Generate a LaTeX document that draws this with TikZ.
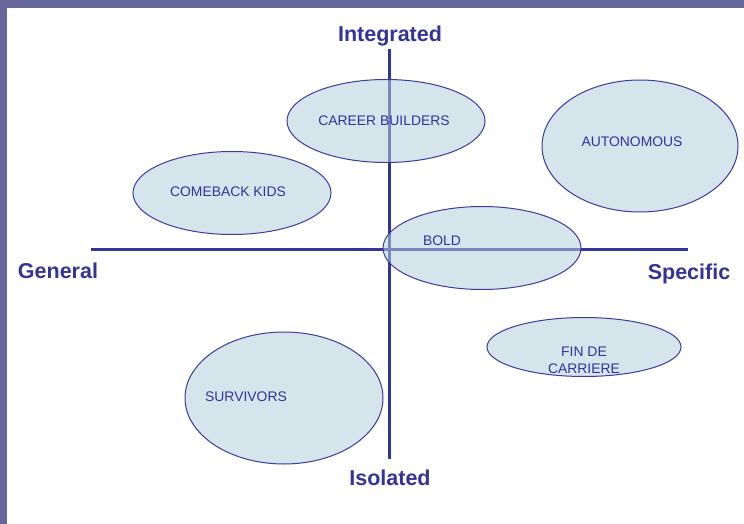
\documentclass[tikz,border=0pt]{standalone}
\usepackage{fontspec}
\setmainfont{Liberation Sans}
\usetikzlibrary{shapes.geometric}
\definecolor{frame}{HTML}{666699}
\definecolor{navy}{HTML}{333399}
\definecolor{ellfill}{HTML}{B6CEDC}
\definecolor{ellline}{HTML}{3C3C9C}
\tikzset{
  axis/.style={draw=navy, line width=3bp},
  ell/.style={ellipse, draw=ellline, line width=1bp, fill=ellfill, fill opacity=0.55, draw opacity=1, inner sep=0pt, outer sep=0pt},
  lbl/.style={anchor=base, text=navy, font=\fontsize{13.9bp}{18bp}\selectfont, inner sep=0pt},
  axlbl/.style={anchor=base, text=navy, font=\fontsize{21.5bp}{24bp}\selectfont\bfseries, inner sep=0pt}
}
\begin{document}
\begin{tikzpicture}[x=1bp,y=-1bp]
\useasboundingbox (0,0) rectangle (744,524);
\fill[white] (0,0) rectangle (744,524);
\fill[frame] (0,0) rectangle (744,8);
\fill[frame] (0,0) rectangle (7,524);
% axes
\coordinate (vtop) at (389,49);
\coordinate (vbot) at (389,459);
\coordinate (hleft) at (91,250);
\coordinate (hright) at (688,250);
\draw[axis] (vtop) -- (vbot);
\draw[axis] (hleft) -- (hright);
% axis labels
\node[axlbl] (integrated) at (390,42) {Integrated};
\node[axlbl] (isolated) at (390,485) {Isolated};
\node[axlbl] (general) at (58,279) {General};
\node[axlbl] (specific) at (689,280) {Specific};
% ellipses
\node[ell, minimum width=198bp, minimum height=83bp] (cb) at (386,121) {};
\node[ell, minimum width=196bp, minimum height=132bp] (auto) at (640,146) {};
\node[ell, minimum width=198bp, minimum height=83bp] (ck) at (232,193) {};
\node[ell, minimum width=198bp, minimum height=83bp] (bold) at (482,248) {};
\node[ell, minimum width=194bp, minimum height=59bp] (fin) at (584,347) {};
\node[ell, minimum width=198bp, minimum height=132bp] (surv) at (284,398) {};
% labels
\node[lbl] (cbt) at (384,126) {CAREER BUILDERS};
\node[lbl] (autot) at (632,147) {AUTONOMOUS};
\node[lbl] (ckt) at (228,197) {COMEBACK KIDS};
\node[lbl] (boldt) at (442,246) {BOLD};
\node[lbl] (fint) at (584,356) {FIN DE};
\node[lbl] (fint2) at (584,373) {CARRIERE};
\node[lbl] (survt) at (246,401) {SURVIVORS};
\end{tikzpicture}
\end{document}
